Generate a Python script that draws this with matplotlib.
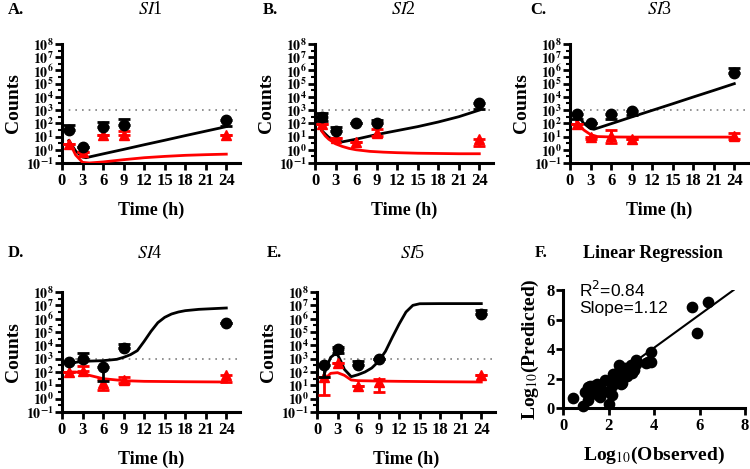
import numpy as np
import matplotlib
matplotlib.use("Agg")
import matplotlib.pyplot as plt
from matplotlib.ticker import FixedLocator

plt.rcParams['font.family'] = ['Liberation Serif', 'DejaVu Serif']
plt.rcParams['mathtext.fontset'] = 'stix'

# sampling times (h)
times = [1, 3, 6, 9, 24]
panel_letters = ['A.', 'B.', 'C.', 'D.', 'E.']
panel_names = ['1', '2', '3', '4', '5']

# observed counts, log10 scale: circles (black) and triangles (red)
circ = [[1.5, 0.2, 1.7, 1.9, 2.25],
        [2.45, 1.4, 2.0, 2.0, 3.55],
        [2.7, 2.05, 2.7, 2.95, 5.8],
        [2.75, 3.0, 2.35, 3.8, 5.65],
        [2.55, 3.7, 2.5, 3.0, 6.35]]
circ_hi = [[1.9, 0.2, 2.1, 2.3, 2.25],
           [2.75, 1.75, 2.0, 2.25, 3.55],
           [2.7, 2.05, 2.7, 2.95, 6.15],
           [2.75, 3.4, 2.35, 4.1, 5.65],
           [2.55, 3.9, 2.8, 3.0, 6.65]]
circ_lo = [[1.5, 0.2, 1.7, 1.9, 1.8],
           [2.2, 1.4, 2.0, 2.0, 3.1],
           [2.35, 2.05, 2.3, 2.6, 5.8],
           [2.75, 3.0, 1.3, 3.8, 5.65],
           [1.65, 3.4, 2.5, 3.0, 6.35]]
tri = [[0.4, -0.2, 1.1, 1.15, 1.1],
       [1.95, 0.9, 0.6, 1.3, 0.85],
       [1.95, 0.95, 1.05, 0.8, 1.05],
       [2.0, 2.1, 1.15, 1.4, 1.75],
       [1.6, 2.65, 0.95, 1.25, 1.8]]
tri_hi = [[0.4, -0.2, 1.1, 1.4, 1.1],
          [1.95, 0.9, 0.6, 1.55, 0.85],
          [1.95, 0.95, 1.5, 0.8, 1.3],
          [2.0, 2.45, 1.5, 1.6, 1.75],
          [1.6, 2.65, 0.95, 1.45, 1.8]]
tri_lo = [[0.4, -0.2, 1.1, 1.15, 1.1],
          [1.95, 0.9, 0.6, 1.05, 0.3],
          [1.95, 0.8, 0.5, 0.8, 0.8],
          [2.0, 2.1, 0.65, 1.2, 1.25],
          [0.3, 2.65, 0.95, 0.5, 1.8]]

# model predictions, log10 scale
black_t = [[1, 2, 3, 3.5, 6, 9, 12, 15, 18, 21, 24],
           [1, 2, 3, 4, 6, 9, 12, 15, 18, 21, 24],
           [1, 2, 3, 3.5, 6, 9, 12, 15, 18, 21, 24],
           [1, 3, 6, 8, 9, 10, 11, 12, 13, 14, 15, 16, 17, 18, 20, 22, 24],
           [1, 1.5, 2, 2.5, 3, 3.5, 4, 5, 6, 7, 8, 9, 10, 11, 12, 13, 14, 15, 18, 21, 24]]
black_v = [[0.7, -0.1, -0.55, -0.6, -0.31, 0.03, 0.38, 0.72, 1.07, 1.41, 1.75],
           [1.45, 0.95, 0.7, 0.6, 0.8, 1.15, 1.45, 1.75, 2.1, 2.5, 3.0],
           [2.7, 2.0, 1.6, 1.55, 1.97, 2.48, 2.98, 3.48, 3.99, 4.49, 5.0],
           [2.65, 2.8, 2.85, 2.95, 3.1, 3.3, 3.6, 4.3, 5.05, 5.7, 6.1, 6.35, 6.5, 6.6, 6.7, 6.75, 6.8],
           [1.75, 2.5, 3.1, 3.3, 3.3, 2.8, 2.2, 1.65, 1.8, 2.0, 2.3, 2.8, 3.55, 4.6, 5.6, 6.5, 7.0, 7.12, 7.13, 7.13, 7.13]]
red_t = [[1, 2, 3, 4, 6, 9, 12, 15, 18, 21, 24],
         [1, 1.5, 2, 3, 4, 5, 6, 8, 10, 12, 15, 18, 21, 24],
         [1, 2, 3, 4, 6, 9, 12, 18, 24],
         [1, 2, 3, 4, 6, 9, 12, 18, 24],
         [1, 2, 3, 4, 5, 6, 9, 12, 18, 24]]
red_v = [[0.65, -0.4, -0.95, -1.0, -0.92, -0.75, -0.6, -0.5, -0.42, -0.37, -0.33],
         [1.4, 1.05, 0.8, 0.45, 0.25, 0.1, 0.0, -0.12, -0.18, -0.22, -0.26, -0.28, -0.3, -0.3],
         [2.15, 1.5, 1.15, 1.0, 0.97, 0.96, 0.96, 0.96, 0.96],
         [2.0, 2.0, 1.9, 1.75, 1.5, 1.35, 1.3, 1.27, 1.25],
         [1.4, 1.9, 1.95, 1.75, 1.4, 1.35, 1.32, 1.3, 1.27, 1.25]]

limit_of_detection = 1e3

# linear regression panel
observed = [0.44, 0.89, 0.95, 1.11, 1.11, 1.19, 1.33, 1.41, 1.48, 1.56, 1.56, 1.63, 1.70,
            1.85, 2.00, 2.08, 2.15, 2.15, 2.18, 2.25, 2.30, 2.44, 2.44, 2.52, 2.55, 2.59,
            2.67, 2.74, 2.81, 2.81, 2.96, 3.00, 3.04, 3.11, 3.19, 3.20, 3.63, 3.75, 3.85,
            3.85, 5.67, 5.88, 6.37, 1.30, 1.45]
predicted = [0.70, 0.11, 1.10, 0.52, 1.42, 1.46, 1.01, 1.30, 1.62, 1.24, 0.90, 0.74, 1.24,
             1.91, 0.30, 0.99, 1.46, 0.90, 2.32, 2.15, 1.91, 2.93, 2.48, 2.05, 1.60, 1.70,
             2.59, 2.70, 2.36, 2.18, 2.81, 2.93, 2.36, 2.59, 3.26, 3.00, 3.05, 3.15, 3.15,
             3.83, 6.87, 5.11, 7.16, 1.50, 1.10]
fit_x = [1.5, 7.5]
slope = 1.12
intercept = -0.4

W, H = 750, 469
fig = plt.figure(figsize=(7.5, 4.69), dpi=100)

def rect(x0, y_top, x1, y_bot):
    return [x0 / W, 1 - y_bot / H, (x1 - x0) / W, (y_bot - y_top) / H]

ax_w = 178
positions = [(62, 44, 163), (315, 44, 163), (570, 44, 163),
             (62, 292, 412), (317, 292, 412)]
title_pos = [(8, 150), (263, 403), (530, 660), (8, 150), (267, 413)]

def style_axes(ax, ysize=12):
    for s in ['top', 'right']:
        ax.spines[s].set_visible(False)
    for s in ['left', 'bottom']:
        ax.spines[s].set_linewidth(2.2)
    ax.tick_params(which='major', width=2, length=5, labelsize=12, pad=2)
    ax.tick_params(axis='y', which='major', labelsize=ysize, pad=1)
    ax.tick_params(which='minor', width=1.5, length=3)
    for lab in ax.get_xticklabels() + ax.get_yticklabels():
        lab.set_fontweight('bold')

for i in range(5):
    x0, yt, yb = positions[i]
    ax = fig.add_axes(rect(x0, yt, x0 + ax_w, yb))
    ax.set_yscale('log')
    ax.set_xlim(0, 26)
    ax.set_ylim(1e-1, 1e8)

    ax.axhline(limit_of_detection, color='gray', linestyle=(0, (1, 3)), linewidth=1.2, zorder=1)

    ax.plot(black_t[i], 10 ** np.array(black_v[i]), color='black', linewidth=2, zorder=3)
    ax.plot(red_t[i], 10 ** np.array(red_v[i]), color='red', linewidth=2, zorder=3)

    c = 10 ** np.array(circ[i])
    c_err = [c - 10 ** np.array(circ_lo[i]), 10 ** np.array(circ_hi[i]) - c]
    ax.errorbar(times, c, yerr=c_err, fmt='o', color='black', markersize=7.5,
                capsize=4, capthick=2, elinewidth=2, zorder=5)
    r = 10 ** np.array(tri[i])
    r_err = [r - 10 ** np.array(tri_lo[i]), 10 ** np.array(tri_hi[i]) - r]
    ax.errorbar(times, r, yerr=r_err, fmt='^', color='red', markersize=7.5,
                capsize=4, capthick=2, elinewidth=2, zorder=4)

    ax.set_xticks(range(0, 25, 3))
    ax.yaxis.set_major_locator(FixedLocator([10.0 ** k for k in range(-1, 9)]))
    ax.yaxis.set_minor_locator(FixedLocator([10.0 ** (k + 0.5) for k in range(-1, 8)]))
    ax.set_yticklabels([r'$\mathbf{10^{%d}}$' % k for k in range(-1, 9)])
    style_axes(ax, ysize=10)
    ax.set_xlabel('Time (h)', fontsize=13, fontweight='bold', labelpad=9)
    ax.set_ylabel('Counts', fontsize=14, fontweight='bold', labelpad=3)

    lx, tx = title_pos[i]
    ty = 10 if i < 3 else 253
    fig.text(lx / W, 1 - ty / H, panel_letters[i], fontsize=12, fontweight='bold', va='center')
    fig.text(tx / W, 1 - ty / H, r'$\mathit{SI}$' + panel_names[i], fontsize=13,
             ha='center', va='center')

# regression panel
axf = fig.add_axes(rect(563, 290, 745, 408))
axf.scatter(observed, predicted, s=55, color='black', zorder=3, clip_on=False)
fx = np.array(fit_x)
axf.plot(fx, slope * fx + intercept, color='black', linewidth=1.5, zorder=2)
axf.set_xlim(0, 8)
axf.set_ylim(0, 8)
axf.set_xticks([0, 2, 4, 6, 8])
axf.set_yticks([0, 2, 4, 6, 8])
style_axes(axf)
axf.set_xlabel(r'Log$_{10}$(Observed)', fontsize=14, fontweight='bold', labelpad=8)
axf.set_ylabel(r'Log$_{10}$(Predicted)', fontsize=14, fontweight='bold', labelpad=4)
axf.text(0.7, 8.7, 'R$^2$=0.84\nSlope=1.12', fontsize=12.5, family='Liberation Sans',
         va='top', ha='left', linespacing=1.1, math_fontfamily='dejavusans')
fig.text(535 / W, 1 - 253 / H, 'F.', fontsize=12, fontweight='bold', va='center')
fig.text(653 / W, 1 - 253 / H, 'Linear Regression', fontsize=13, fontweight='bold',
         ha='center', va='center')

fig.savefig('out.png', dpi=100)
